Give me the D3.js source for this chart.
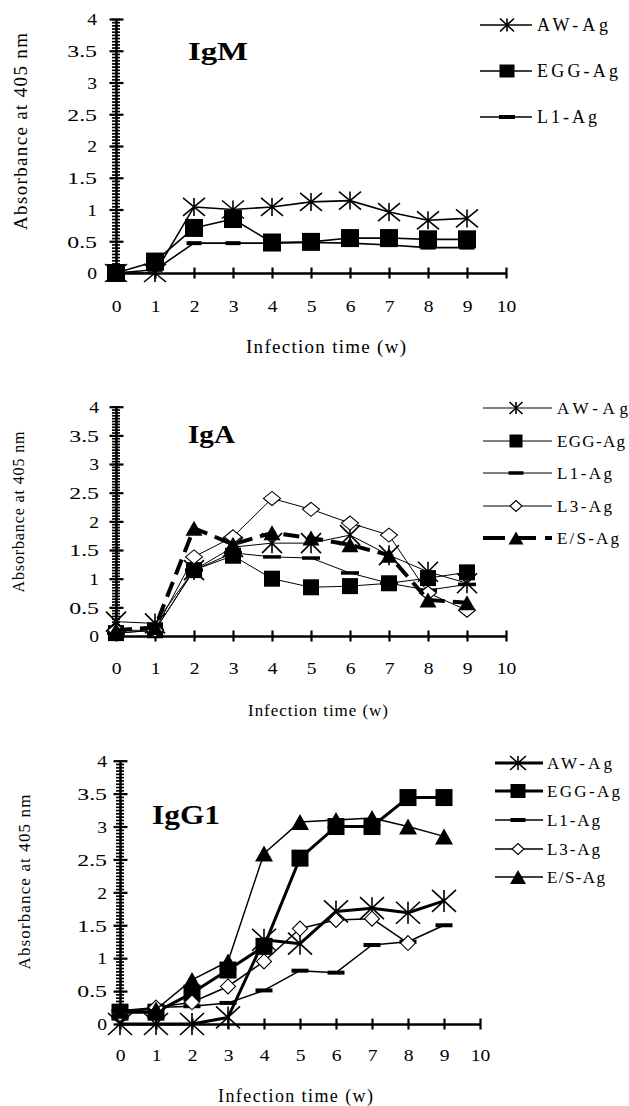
<!DOCTYPE html>
<html><head><meta charset="utf-8">
<script src="https://cdn.jsdelivr.net/npm/d3@7"></script>
<style>
body{margin:0;background:#fff}
text{font-family:"Liberation Serif","Times New Roman",serif;fill:#000}
</style>
</head><body>
<svg id="c" width="629" height="1106"></svg>
<script>
// ---------- data ----------
const weeks = [0,1,2,3,4,5,6,7,8,9];
const xTickValues = [0,1,2,3,4,5,6,7,8,9,10];
const yTickValues = [0,0.5,1,1.5,2,2.5,3,3.5,4];
const yTickLabels = ["0","0.5","1","1.5","2","2.5","3","3.5","4"];
const seriesNames = ["AW-Ag","EGG-Ag","L1-Ag","L3-Ag","E/S-Ag"];
const panelTitles = ["IgM","IgA","IgG1"];
const xAxisTitle = "Infection time (w)";
const yAxisTitle = "Absorbance at 405 nm";

const igmAW  = [0, 0, 1.04, 1.0, 1.04, 1.12, 1.14, 0.96, 0.83, 0.86];
const igmEGG = [0, 0.18, 0.71, 0.85, 0.48, 0.49, 0.55, 0.55, 0.53, 0.53];
const igmL1  = [0, 0.05, 0.47, 0.47, 0.47, 0.48, 0.47, 0.44, 0.40, 0.40];

const igaAW  = [0.25, 0.22, 1.15, 1.55, 1.62, 1.62, 1.76, 1.41, 1.12, 0.92];
const igaEGG = [0.05, 0.10, 1.15, 1.40, 1.00, 0.85, 0.87, 0.92, 1.01, 1.11];
const igaL1  = [0.05, 0.10, 1.15, 1.45, 1.38, 1.36, 1.10, 0.92, 0.80, 0.90];
const igaL3  = [0.10, 0.10, 1.38, 1.73, 2.40, 2.21, 1.97, 1.76, 0.75, 0.45];
const igaES  = [0.10, 0.15, 1.88, 1.60, 1.80, 1.71, 1.59, 1.41, 0.63, 0.58];

const igg1AW  = [0, 0, 0, 0.10, 1.28, 1.22, 1.71, 1.76, 1.69, 1.87];
const igg1EGG = [0.18, 0.18, 0.47, 0.82, 1.18, 2.52, 3.00, 3.00, 3.44, 3.44];
const igg1L1  = [0.20, 0.25, 0.27, 0.32, 0.51, 0.81, 0.78, 1.20, 1.25, 1.50];
const igg1L3  = [0.15, 0.25, 0.33, 0.57, 0.95, 1.45, 1.58, 1.60, 1.23];
const igg1ES  = [0.20, 0.22, 0.67, 0.95, 2.59, 3.07, 3.10, 3.13, 3.00, 2.85];

// ---------- layout / styles ----------
const panels = [
  { title: panelTitles[0], x0:116, x1:506, yTop:19, yBot:273,
    titlePos:{x:218, y:60, size:26, len:60},
    ylab:{x:27, y:131.5, size:19, len:197},
    xlab:{x:326, y:353, size:19, len:160},
    tickSize:17, xTickY:312, yTickPad:19,
    legend:{x1:480, x2:532, xm:507, tx:537, ys:[25,71,117], size:18, lens:[71,81,60]},
    series:[
      {name:seriesNames[0], values:igmAW,  marker:"asterisk", m:{w:22,h:18}, lm:{w:14,h:13}, lw:1.6, llw:1.6},
      {name:seriesNames[1], values:igmEGG, marker:"square",   m:{w:18,h:18}, lm:{w:15,h:13}, lw:1.6, llw:1.6},
      {name:seriesNames[2], values:igmL1,  marker:"dash",     m:{w:15,h:4},  lm:{w:16,h:4},  lw:1.6, llw:1.6}
    ]},
  { title: panelTitles[1], x0:116, x1:506, yTop:406.7, yBot:636,
    titlePos:{x:211.5, y:443, size:26, len:47},
    ylab:{x:24, y:512, size:16, len:161},
    xlab:{x:318, y:716, size:17, len:140},
    tickSize:17, xTickY:674, yTickPad:17,
    legend:{x1:483, x2:552, xm:516, tx:557, ys:[408,441,473,506,538], size:17, lens:[71,68,55,55,62]},
    series:[
      {name:seriesNames[0], values:igaAW,  marker:"asterisk", m:{w:20,h:20}, lm:{w:13,h:12}, lw:1, llw:1},
      {name:seriesNames[1], values:igaEGG, marker:"square",   m:{w:16,h:16}, lm:{w:13,h:13}, lw:1, llw:1},
      {name:seriesNames[2], values:igaL1,  marker:"dash",     m:{w:18,h:3.5},lm:{w:15,h:3.5},lw:1, llw:1},
      {name:seriesNames[3], values:igaL3,  marker:"diamond",  m:{w:17,h:14}, lm:{w:12,h:11}, lw:1, llw:1},
      {name:seriesNames[4], values:igaES,  marker:"triangle", m:{w:17,h:15}, lm:{w:15,h:13}, lw:4, llw:4, dash:"16,8", ldash:"22,9"}
    ]},
  { title: panelTitles[2], x0:120, x1:480, yTop:760.7, yBot:1024,
    titlePos:{x:186, y:824, size:28, len:68},
    ylab:{x:30, y:882, size:17, len:175},
    xlab:{x:295.5, y:1102, size:18, len:155},
    tickSize:17, xTickY:1061, yTickPad:13,
    legend:{x1:495, x2:543, xm:518, tx:547, ys:[763,791,820,849,877], size:17, lens:[65,73,53,53,58]},
    series:[
      {name:seriesNames[0], values:igg1AW,  marker:"asterisk", m:{w:24,h:22}, lm:{w:16,h:14}, lw:3, llw:3},
      {name:seriesNames[1], values:igg1EGG, marker:"square",   m:{w:17,h:17}, lm:{w:15,h:14}, lw:3, llw:3},
      {name:seriesNames[2], values:igg1L1,  marker:"dash",     m:{w:17,h:4},  lm:{w:15,h:4},  lw:1.5, llw:1.5},
      {name:seriesNames[3], values:igg1L3,  marker:"diamond",  m:{w:15,h:15}, lm:{w:12,h:11}, lw:1.5, llw:1.5},
      {name:seriesNames[4], values:igg1ES,  marker:"triangle", m:{w:18,h:16}, lm:{w:16,h:14}, lw:1.5, llw:1.5}
    ]}
];

const svg = d3.select("#c");

function drawMarker(g, type, cx, cy, s) {
  const w = s.w, h = s.h;
  if (type === "square" || type === "dash") {
    g.append("rect").attr("x", cx - w/2).attr("y", cy - h/2).attr("width", w).attr("height", h).attr("fill", "#000");
  } else if (type === "asterisk") {
    const p = d3.path();
    p.moveTo(cx, cy - h/2); p.lineTo(cx, cy + h/2);
    p.moveTo(cx - w/2, cy - h/2); p.lineTo(cx + w/2, cy + h/2);
    p.moveTo(cx + w/2, cy - h/2); p.lineTo(cx - w/2, cy + h/2);
    g.append("path").attr("d", p.toString()).attr("stroke", "#000").attr("stroke-width", 1.6).attr("fill", "none");
  } else if (type === "diamond") {
    const p = d3.path();
    p.moveTo(cx, cy - h/2); p.lineTo(cx + w/2, cy); p.lineTo(cx, cy + h/2); p.lineTo(cx - w/2, cy); p.closePath();
    g.append("path").attr("d", p.toString()).attr("fill", "#fff").attr("stroke", "#000").attr("stroke-width", 1.1);
  } else if (type === "triangle") {
    const p = d3.path();
    p.moveTo(cx, cy - h/2); p.lineTo(cx + w/2, cy + h/2); p.lineTo(cx - w/2, cy + h/2); p.closePath();
    g.append("path").attr("d", p.toString()).attr("fill", "#000");
  }
}

function stretch(sel) {
  sel.each(function() {
    const t = d3.select(this);
    const factor = t.text().includes(".") ? 1.4 : 1.15;
    const l = this.getComputedTextLength();
    t.attr("textLength", l * factor).attr("lengthAdjust", "spacingAndGlyphs");
  });
}

panels.forEach(P => {
  const x = d3.scaleLinear().domain([0, 10]).range([P.x0, P.x1]);
  const y = d3.scaleLinear().domain([0, 4]).range([P.yBot, P.yTop]);
  const g = svg.append("g");

  // minor y ticks (ladder)
  const minor = d3.range(0, 81).map(i => i * 0.05);
  const gMinor = g.append("g").attr("transform", `translate(${P.x0},0)`)
    .call(d3.axisLeft(y).tickValues(minor).tickFormat(() => "").tickSizeOuter(0));
  gMinor.select(".domain").remove();
  gMinor.selectAll(".tick line").attr("x1", -4).attr("x2", 4)
    .attr("stroke", "#000").attr("stroke-width", 1.7);

  // major y axis
  const gy = g.append("g").attr("transform", `translate(${P.x0},0)`)
    .call(d3.axisLeft(y).tickValues(yTickValues).tickFormat((d, i) => yTickLabels[i])
      .tickSizeOuter(0).tickSizeInner(0).tickPadding(P.yTickPad));
  gy.select(".domain").attr("stroke", "#000").attr("stroke-width", 2.5);
  gy.selectAll(".tick").append("line").attr("x1", -6.5).attr("x2", 7.5).attr("stroke", "#000").attr("stroke-width", 2.2);
  gy.selectAll(".tick text").attr("font-size", P.tickSize).attr("font-family", "Liberation Serif").attr("dy", "0.34em");
  stretch(gy.selectAll(".tick text"));

  // x axis
  const gx = g.append("g").attr("transform", `translate(0,${P.yBot})`)
    .call(d3.axisBottom(x).tickValues(xTickValues).tickSizeOuter(0).tickSizeInner(0).tickPadding(0));
  gx.select(".domain").attr("stroke", "#000").attr("stroke-width", 2.5);
  gx.selectAll(".tick").append("line").attr("y1", -5.5).attr("y2", 5.5).attr("stroke", "#000").attr("stroke-width", 2.2);
  gx.selectAll(".tick text").attr("font-size", P.tickSize).attr("font-family", "Liberation Serif")
    .attr("y", P.xTickY - P.yBot).attr("dy", 0);
  stretch(gx.selectAll(".tick text"));

  // axis titles (letter-spaced regular text)
  g.append("text").attr("transform", `translate(${P.ylab.x},${P.ylab.y}) rotate(-90)`)
    .attr("text-anchor", "middle").attr("font-size", P.ylab.size)
    .attr("textLength", P.ylab.len).attr("lengthAdjust", "spacing").text(yAxisTitle);
  g.append("text").attr("x", P.xlab.x).attr("y", P.xlab.y)
    .attr("text-anchor", "middle").attr("font-size", P.xlab.size)
    .attr("textLength", P.xlab.len).attr("lengthAdjust", "spacing").text(xAxisTitle);

  // panel title
  g.append("text").attr("x", P.titlePos.x).attr("y", P.titlePos.y)
    .attr("text-anchor", "middle").attr("font-size", P.titlePos.size).attr("font-weight", "bold")
    .attr("textLength", P.titlePos.len).attr("lengthAdjust", "spacingAndGlyphs").text(P.title);

  // series
  const line = d3.line().x((d, i) => x(weeks[i])).y(d => y(d));
  P.series.forEach(S => {
    const sg = g.append("g");
    sg.append("path").attr("d", line(S.values)).attr("fill", "none").attr("stroke", "#000")
      .attr("stroke-width", S.lw).attr("stroke-dasharray", S.dash || null).attr("stroke-linejoin", "round");
    S.values.forEach((v, i) => drawMarker(sg, S.marker, x(weeks[i]), y(v), S.m));
  });

  // legend
  const L = P.legend;
  P.series.forEach((S, i) => {
    const ly = L.ys[i];
    const lg = g.append("g");
    lg.append("line").attr("x1", L.x1).attr("x2", L.x2).attr("y1", ly).attr("y2", ly)
      .attr("stroke", "#000").attr("stroke-width", S.llw).attr("stroke-dasharray", S.ldash || null);
    drawMarker(lg, S.marker, L.xm, ly, S.lm);
    lg.append("text").attr("x", L.tx).attr("y", ly + 5.5).attr("font-size", L.size)
      .attr("textLength", L.lens[i]).attr("lengthAdjust", "spacing").text(S.name);
  });
});
</script>
</body></html>
